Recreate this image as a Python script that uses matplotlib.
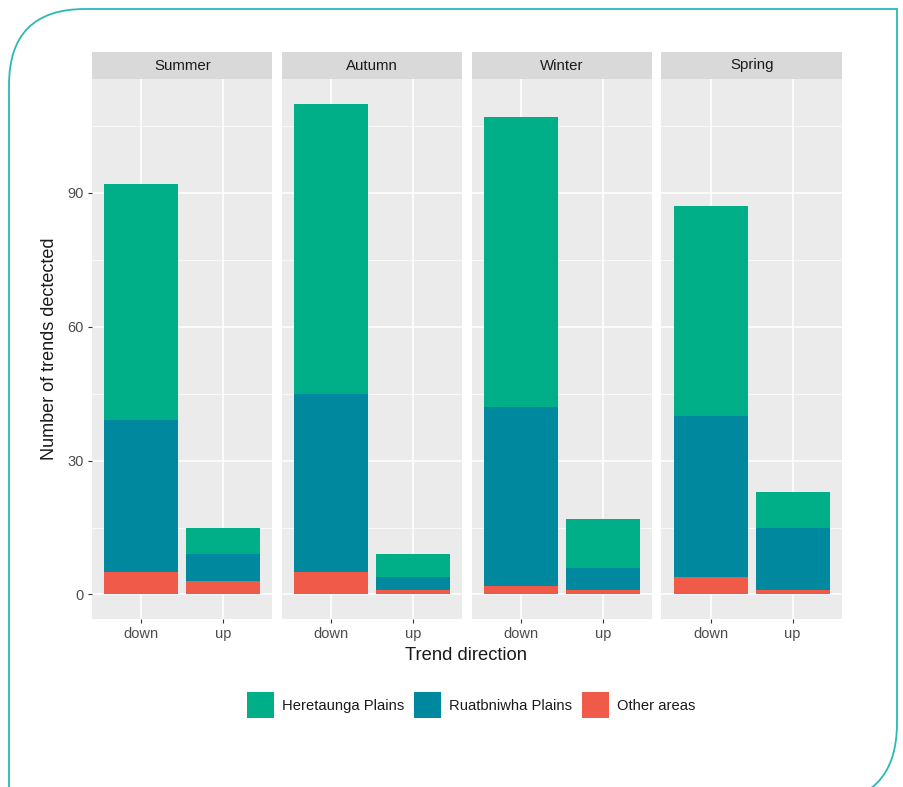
import numpy as np
import matplotlib
matplotlib.use('Agg')
import matplotlib.pyplot as plt
from matplotlib.patches import Patch
from matplotlib.path import Path
from matplotlib.patches import PathPatch

plt.rcParams.update({'font.family': ['Liberation Sans', 'DejaVu Sans'],
                     'font.size': 10})

SEASONS = ['Summer', 'Autumn', 'Winter', 'Spring']
DIRECTIONS = ['down', 'up']
AREAS = ['Heretaunga Plains', 'Ruatbniwha Plains', 'Other areas']
AREA_COLORS = ['#00ae87', '#00889f', '#ef5b48']

# counts per season, [down, up]
other_areas = {'Summer': [5, 3], 'Autumn': [5, 1], 'Winter': [2, 1], 'Spring': [4, 1]}
ruataniwha = {'Summer': [34, 6], 'Autumn': [40, 3], 'Winter': [40, 5], 'Spring': [36, 14]}
heretaunga = {'Summer': [53, 6], 'Autumn': [65, 5], 'Winter': [65, 11], 'Spring': [47, 8]}

Y_TICKS = [0, 30, 60, 90]

W, H = 904, 787
fig = plt.figure(figsize=(W / 100, H / 100), dpi=100)

# teal frame round the figure
fc = '#2bb8b8'
r1, r2 = 76, 80
verts = [(9, H), (9, r1 + 9), (9, 9), (r1 + 9, 9), (897, 9), (897, 723),
         (897, 723 + r2), (897 - r2, 723 + r2)]
codes = [Path.MOVETO, Path.LINETO, Path.CURVE3, Path.CURVE3, Path.LINETO, Path.LINETO,
         Path.CURVE3, Path.CURVE3]
verts = [(x / W, 1 - y / H) for x, y in verts]
fig.patches.append(PathPatch(Path(verts, codes), transform=fig.transFigure,
                             fill=False, edgecolor=fc, lw=1.3, clip_on=False))

panel_left = 92
panel_w = 180.5
gap = 9.3
panel_top, panel_bottom = 79, 619
strip_top = 52

x = np.arange(1, len(DIRECTIONS) + 1)
for i, season in enumerate(SEASONS):
    left = panel_left + i * (panel_w + gap)
    ax = fig.add_axes([left / W, 1 - panel_bottom / H, panel_w / W,
                       (panel_bottom - panel_top) / H])
    ax.set_facecolor('#ebebeb')
    for sp in ax.spines.values():
        sp.set_visible(False)

    o = np.array(other_areas[season])
    r = np.array(ruataniwha[season])
    h = np.array(heretaunga[season])
    ax.bar(x, o, width=0.9, color=AREA_COLORS[2], zorder=3)
    ax.bar(x, r, width=0.9, bottom=o, color=AREA_COLORS[1], zorder=3)
    ax.bar(x, h, width=0.9, bottom=o + r, color=AREA_COLORS[0], zorder=3)

    ax.set_xlim(0.4, 2.6)
    ax.set_ylim(-5.5, 115.5)
    ax.set_xticks(x)
    ax.set_xticklabels(DIRECTIONS)
    ax.set_yticks(Y_TICKS)
    ax.set_yticks([15, 45, 75, 105], minor=True)
    ax.grid(True, which='major', color='white', lw=1.1, zorder=0)
    ax.grid(True, which='minor', axis='y', color='white', lw=0.5, zorder=0)
    ax.tick_params(axis='both', which='major', length=3, width=0.8, color='#333333',
                   labelcolor='#4d4d4d', labelsize=10.5, pad=3)
    ax.tick_params(axis='y', which='minor', length=0)
    if i > 0:
        ax.tick_params(axis='y', left=False, labelleft=False)

    # facet strip
    sax = fig.add_axes([left / W, 1 - panel_top / H, panel_w / W, (panel_top - strip_top) / H])
    sax.set_facecolor('#d9d9d9')
    sax.set_xticks([])
    sax.set_yticks([])
    for sp in sax.spines.values():
        sp.set_visible(False)
    sax.text(0.5, 0.5, season, ha='center', va='center', fontsize=10.8, color='#1a1a1a',
             transform=sax.transAxes)

fig.text(50 / W, 1 - 349 / H, 'Number of trends dectected', rotation=90, ha='center',
         va='center', fontsize=13, color='#1a1a1a')
fig.text(466 / W, 1 - 655 / H, 'Trend direction', ha='center', va='center',
         fontsize=13.2, color='#1a1a1a')

handles = [Patch(facecolor=c, edgecolor='none') for c in AREA_COLORS]
leg = fig.legend(handles, AREAS, loc='center', bbox_to_anchor=(471 / W, 1 - 705 / H), ncol=3,
                 frameon=False, fontsize=10.6, handlelength=1.84, handleheight=2.35,
                 handletextpad=0.54, columnspacing=0.68, borderaxespad=0)
for t in leg.get_texts():
    t.set_color('#1a1a1a')

fig.savefig('out.png', dpi=100)
